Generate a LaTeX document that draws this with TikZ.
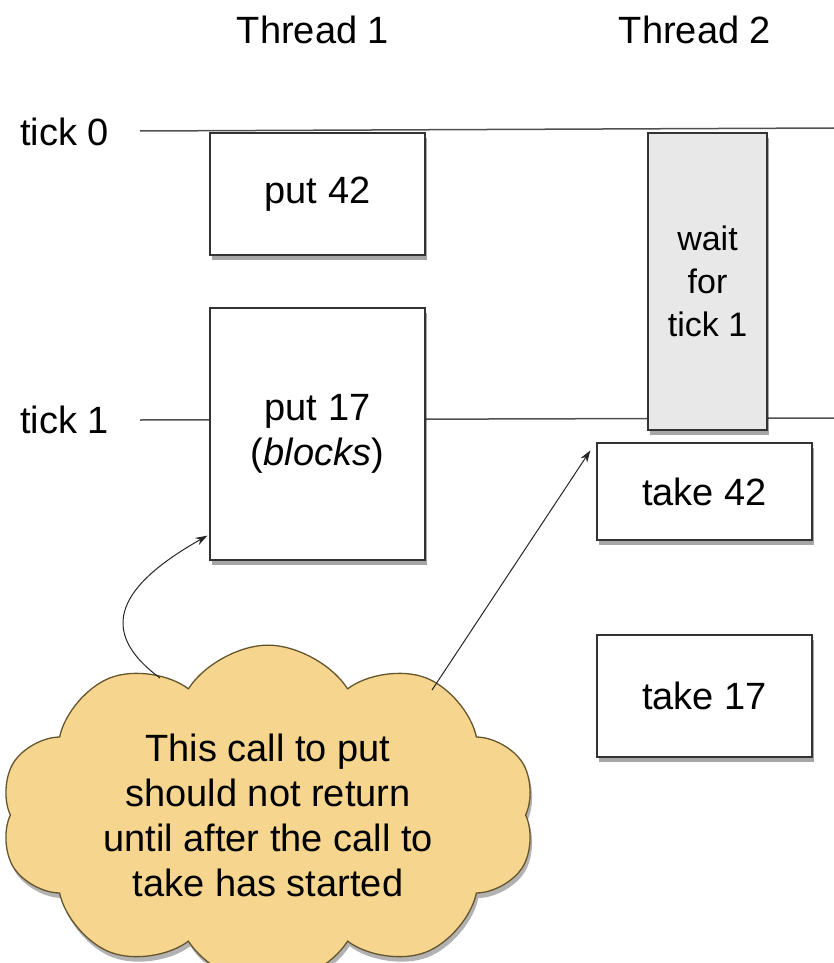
\documentclass[tikz,border=0pt]{standalone}
\usepackage{fontspec}
\setmainfont{Liberation Sans}
\usetikzlibrary{shapes.symbols,shadows,arrows.meta,calc}
\definecolor{cloudfill}{RGB}{246,214,142}
\definecolor{cloudline}{RGB}{100,85,45}
\definecolor{waitfill}{RGB}{232,232,232}
\definecolor{linegray}{RGB}{80,80,80}
\tikzset{
  txt/.style={font=\fontsize{38}{45}\selectfont, inner sep=0pt},
  box/.style={draw=black!80, line width=1.2pt, fill=white, align=center,
    font=\fontsize{38}{45}\selectfont,
    drop shadow={shadow xshift=2pt, shadow yshift=-5pt, opacity=0.35, fill=black}},
  waitbox/.style={box, fill=waitfill},
  tickline/.style={draw=linegray, line width=1.5pt},
  note/.style={cloud, cloud puffs=10, cloud puff arc=115, aspect=1.7,
    draw=cloudline, line width=1.3pt, fill=cloudfill, align=center, inner sep=0pt,
    font=\fontsize{38}{45}\selectfont,
    drop shadow={shadow xshift=2pt, shadow yshift=-5pt, opacity=0.3, fill=black}},
  arr/.style={draw=black!85, line width=1pt, -{Stealth[length=12pt,width=8pt]}}
}
\begin{document}
\begin{tikzpicture}[x=1pt,y=-1pt]
\useasboundingbox (0,0) rectangle (834,963);
% labels
\node[txt] (th1) at (313,30) {Thread 1};
\node[txt] (th2) at (695,30) {Thread 2};
\node[txt, anchor=west] (t0) at (20,132) {tick 0};
\node[txt, anchor=west] (t1) at (20,420) {tick 1};
% tick lines
\coordinate (l0a) at (140,131);
\coordinate (l0b) at (834,128);
\coordinate (l1a) at (140,420);
\coordinate (l1b) at (834,418);
\draw[tickline] (l0a) -- (l0b);
\draw[tickline] (l1a) -- (l1b);
% boxes
\node[box, minimum width=215pt, minimum height=122pt] (p42) at (317.5,194) {put 42};
\node[box, minimum width=215pt, minimum height=252pt] (p17) at (317.5,434) {put 17\\(\textit{blocks})};
\node[waitbox, minimum width=119pt, minimum height=297pt, font=\fontsize{34}{43}\selectfont] (w) at (707.5,281.5) {wait\\for\\tick 1};
\node[box, minimum width=215pt, minimum height=97pt] (t42) at (704.5,491.5) {take 42};
\node[box, minimum width=215pt, minimum height=122pt] (t17) at (704.5,696) {take 17};
% cloud
\node[note, minimum width=535pt, minimum height=320pt] (c) at (268,815)
  {This call to put\\should not return\\until after the call to\\take has started};
% arrows
\coordinate (a1s) at (160,678);
\coordinate (a1e) at ($(p17.south west)+(-2pt,25pt)$);
\coordinate (a2s) at (432,690);
\coordinate (a2e) at ($(t42.north west)+(-6pt,-8pt)$);
\draw[arr] (a1s) .. controls (95,630) and (120,585) .. (a1e);
\draw[arr] (a2s) -- (a2e);
\end{tikzpicture}
\end{document}
